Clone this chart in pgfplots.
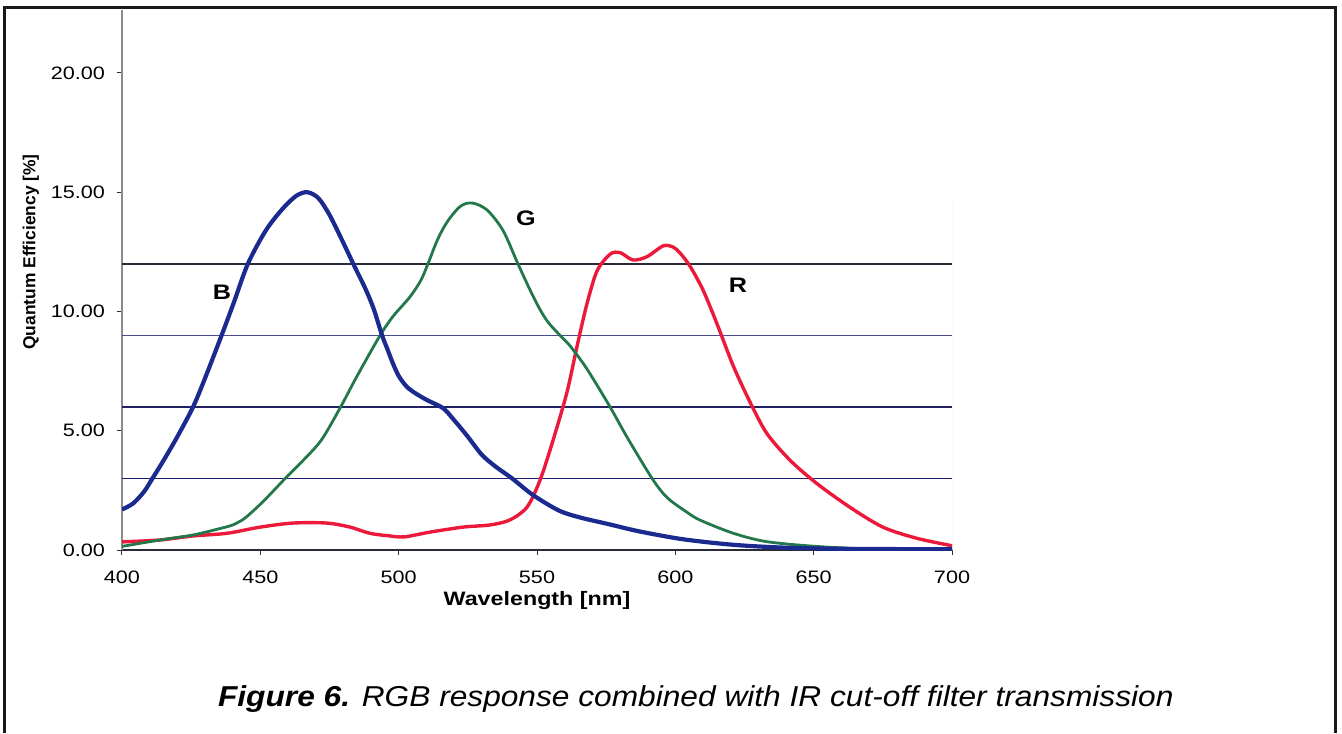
\documentclass[border=0pt]{standalone}
\usepackage{fontspec}
\setmainfont{Liberation Sans}[FakeStretch=1.2]
\newfontfamily\ylabfont{Liberation Sans}
\newfontfamily\capfont{Liberation Sans}[FakeStretch=1.1]
\usepackage{pgfplots}
\pgfplotsset{compat=1.18}
\definecolor{qeblue}{HTML}{1B2A8F}
\definecolor{qegreen}{HTML}{22784A}
\definecolor{qered}{HTML}{EC1A3A}
\definecolor{gridblk}{HTML}{2A2A38}
\definecolor{gridblu}{HTML}{4B4B90}

% one pixel of the reference = 0.5pt, origin at (400 nm, 0 %)
\pgfplotstableread{
wl qe
400 1.70
404 1.95
408 2.45
411 3.00
415 3.75
420 4.75
425.7 6.00
430 7.20
436 9.00
440.5 10.40
445.5 12.00
452 13.40
458 14.30
463 14.85
467 15.00
471 14.75
475 14.05
479.5 13.00
484 11.90
488 10.95
491 10.10
494 9.00
496 8.40
498 7.80
500 7.30
502.5 6.90
505 6.65
510 6.30
516 5.95
520 5.45
525 4.75
530 4.00
535 3.50
541 3.00
548.6 2.30
558 1.65
566 1.35
575.3 1.10
587 0.78
602.8 0.45
620.8 0.22
639 0.10
660 0.05
700 0.03
}\blue

\pgfplotstableread{
wl qe
400 0.15
413.7 0.42
425.7 0.63
435.4 0.90
440 1.05
444 1.30
448 1.70
452 2.15
459 3.00
465 3.70
472 4.60
478.8 5.95
485 7.30
493.3 9.00
498 9.80
504 10.60
508 11.30
510.6 12.00
514 13.00
517.5 13.75
522.2 14.40
526.5 14.55
531.9 14.26
537.7 13.40
543.1 12.00
547.5 10.90
551 10.10
554 9.55
558.3 9.00
562 8.55
568 7.60
576.4 6.00
582.5 4.74
591.6 3.00
597 2.20
604 1.60
609 1.25
621 0.70
633 0.35
651 0.15
670 0.05
700 0.02
}\green

\pgfplotstableread{
wl qe
400 0.34
413.7 0.42
425.7 0.59
437.9 0.70
450 0.96
461.8 1.13
474 1.13
482.4 0.96
489.6 0.70
496 0.60
502 0.55
511.3 0.75
523.3 0.96
533 1.05
540.2 1.26
546.4 1.80
551.1 2.93
555.8 4.60
560.8 6.60
564.4 8.50
568 10.30
571.7 11.70
576.4 12.40
580 12.47
584.7 12.16
589.8 12.30
595.6 12.75
599.2 12.70
601.7 12.45
605.3 11.90
610 10.90
615 9.50
621 7.70
627 6.20
633 4.90
641.4 3.77
651 2.80
663 1.80
675 0.96
687 0.50
699 0.20
700 0.18
}\red

\begin{document}
\begin{tikzpicture}
\useasboundingbox (-61pt,-91.5pt) rectangle (610pt,275pt);
\begin{axis}[
    scale only axis,
    width=415pt, height=270pt,
    xmin=400, xmax=700, ymin=0, ymax=22.64,
    axis x line*=bottom, axis y line*=left,
    x axis line style={-, gridblk, line width=0.9pt},
    y axis line style={-, black!45, line width=0.6pt},
    xtick={400,450,...,700},
    ytick={0,5,10,15,20},
    tick align=outside, major tick length=2.5pt,
    tick style={black!80, line width=0.5pt},
    tick label style={font=\fontsize{9}{10}\selectfont},
    /pgf/number format/assume math mode=true,
    yticklabel style={/pgf/number format/.cd, fixed, fixed zerofill, precision=2, /tikz/.cd, xshift=-2.5pt},
    xticklabel style={/pgf/number format/.cd, fixed, /tikz/.cd, yshift=-4.5pt},
]
\draw[gridblk, line width=0.8pt] (axis cs:400,12) -- (axis cs:700,12);
\draw[gridblu, line width=0.7pt] (axis cs:400,9) -- (axis cs:700,9);
\draw[gridblk!80!blue, line width=0.7pt] (axis cs:400,6) -- (axis cs:700,6);
\draw[gridblk!70!blue, line width=0.7pt] (axis cs:400,3) -- (axis cs:700,3);
\draw[blue!15, line width=0.5pt] (axis cs:700,0) -- (axis cs:700,14.7);

\addplot[qered, line width=1.7pt, smooth, tension=0.5] table[x=wl, y=qe] {\red};
\addplot[qegreen, line width=1.4pt, smooth, tension=0.5] table[x=wl, y=qe] {\green};
\addplot[qeblue, line width=2.1pt, smooth, tension=0.5] table[x=wl, y=qe] {\blue};

\node[font=\bfseries\fontsize{10.5}{12}\selectfont] at (axis cs:436.1,10.8) {B};
\node[font=\bfseries\fontsize{10.5}{12}\selectfont] at (axis cs:546,13.9) {G};
\node[font=\bfseries\fontsize{10.5}{12}\selectfont] at (axis cs:622.6,11.1) {R};
\end{axis}

\node[anchor=base, font=\bfseries\fontsize{9.7}{11}\selectfont] at (207.5pt,-27.5pt) {Wavelength [nm]};
\node[rotate=90, font=\ylabfont\bfseries\fontsize{8.7}{10}\selectfont] at (-45.5pt,149pt) {Quantum Efficiency [\%]};
\node[anchor=base west, font=\capfont\itshape\fontsize{14.4}{17}\selectfont] at (44.5pt,-78pt)
    {\textbf{Figure 6.} RGB response combined with IR cut-off filter transmission};

\draw[black!90, line width=1.5pt] (-58.5pt,-91.5pt) -- (-58.5pt,271.25pt) -- (606.5pt,271.25pt) -- (606.5pt,-91.5pt);
\end{tikzpicture}
\end{document}
